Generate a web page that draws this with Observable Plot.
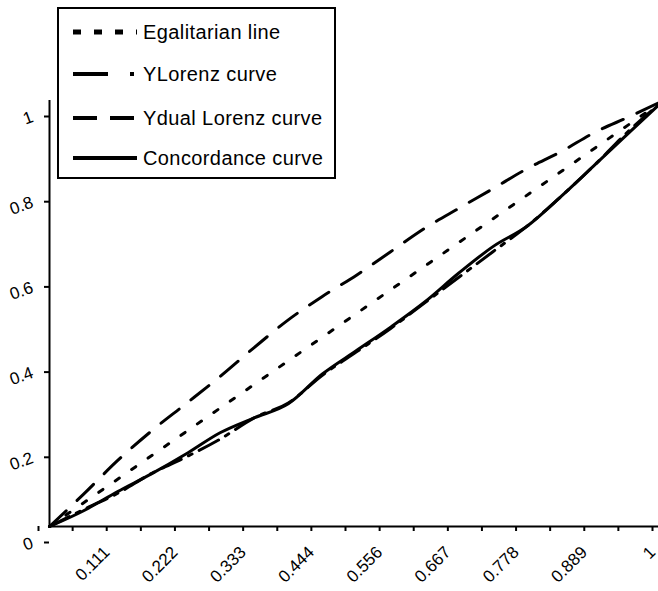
<!DOCTYPE html>
<html>
<head>
<meta charset="utf-8">
<script src="https://cdn.jsdelivr.net/npm/d3@7"></script>
<script src="https://cdn.jsdelivr.net/npm/@observablehq/plot@0.6"></script>
<style>
  html, body { margin: 0; padding: 0; background: #fff; }
  #wrap { position: relative; width: 658px; height: 591px; overflow: hidden; }
  #legend { position: absolute; left: 57px; top: 7px; width: 275px; height: 168px; border: 2px solid #000; background: #fff;
            font-family: "Liberation Sans", Arial, sans-serif; font-size: 20px; letter-spacing: 0.4px; color: #000; }
  .row { position: absolute; left: 0; height: 24px; display: flex; align-items: center; white-space: nowrap; }
  .row svg { margin-left: 14px; margin-right: 6px; }
</style>
</head>
<body>
<div id="wrap"></div>
<script>
// ---- data ----
const xGrid = [0, 0.0556, 0.1111, 0.1667, 0.2222, 0.2778, 0.3333, 0.3889, 0.4444, 0.5,
               0.5556, 0.6111, 0.6667, 0.7222, 0.7778, 0.8333, 0.8889, 0.9444, 1];
const egalitarianX = [0, 1];
const egalitarianY = [0, 1];
const concordance = [0, 0.037, 0.082, 0.124, 0.170, 0.220, 0.255, 0.288, 0.358, 0.413,
                     0.468, 0.527, 0.595, 0.657, 0.705, 0.775, 0.850, 0.925, 1];
const yLorenz     = [0, 0.040, 0.078, 0.125, 0.163, 0.205, 0.255, 0.290, 0.355, 0.410,
                     0.465, 0.525, 0.585, 0.645, 0.705, 0.775, 0.850, 0.930, 1];
const yDualLorenz = [0, 0.076, 0.155, 0.225, 0.288, 0.352, 0.420, 0.485, 0.540, 0.590,
                     0.645, 0.700, 0.747, 0.793, 0.840, 0.880, 0.926, 0.962, 1];

const xTicks = [0, 0.0556, 0.1111, 0.1667, 0.2222, 0.2778, 0.3333, 0.3889, 0.4444, 0.5,
                0.5556, 0.6111, 0.6667, 0.7222, 0.7778, 0.8333, 0.8889, 0.9444, 1];
const xTickLabels = ["", "", "0.111", "", "0.222", "", "0.333", "", "0.444", "",
                     "0.556", "", "0.667", "", "0.778", "", "0.889", "", "1"];
const yTicks = [0, 0.2, 0.4, 0.6, 0.8, 1];
const yTickLabels = ["0", "0.2", "0.4", "0.6", "0.8", "1"];

const seriesNames = ["Egalitarian line", "YLorenz curve", "Ydual Lorenz curve", "Concordance curve"];
const seriesDash = ["5,15", "22,8,4,8", "23,15", null];
const legendDash = ["8,13", "35,22,4,30", "24,13", null];

// ---- build tables ----
const egal = egalitarianX.map((x, i) => ({x, y: egalitarianY[i]}));
const conc = xGrid.map((x, i) => ({x, y: concordance[i]}));
const lor = xGrid.map((x, i) => ({x, y: yLorenz[i]}));
const dual = xGrid.map((x, i) => ({x, y: yDualLorenz[i]}));
const xLab = new Map(xTicks.map((t, i) => [t, xTickLabels[i]]));
const yLab = new Map(yTicks.map((t, i) => [t, yTickLabels[i]]));

const chart = Plot.plot({
  width: 658,
  height: 591,
  marginLeft: 49,
  marginRight: 0,
  marginTop: 100,
  marginBottom: 65,
  x: {domain: [0, 1], range: [49, 663]},
  y: {domain: [0, 1], range: [526, 100]},
  style: {fontFamily: "'Liberation Sans', Arial, sans-serif", background: "#fff", color: "#000", overflow: "hidden"},
  marks: [
    Plot.line(egal, {x: "x", y: "y", stroke: "#000", strokeWidth: 3, strokeDasharray: seriesDash[0]}),
    Plot.line(dual, {x: "x", y: "y", stroke: "#000", strokeWidth: 3, strokeDasharray: seriesDash[2], curve: "monotone-x"}),
    Plot.line(lor, {x: "x", y: "y", stroke: "#000", strokeWidth: 3, strokeDasharray: seriesDash[1], curve: "monotone-x"}),
    Plot.line(conc, {x: "x", y: "y", stroke: "#000", strokeWidth: 3, curve: "monotone-x"}),
    Plot.ruleY([0], {stroke: "#000", strokeWidth: 2}),
    Plot.ruleX([0], {stroke: "#000", strokeWidth: 2}),
    Plot.axisX({ticks: xTicks, tickFormat: d => xLab.get(d), tickSize: 5, tickPadding: 18, tickRotate: -45,
                textAnchor: "end", fontSize: 17, label: null, strokeWidth: 2, dx: -11}),
    Plot.axisY({ticks: yTicks, tickFormat: d => yLab.get(d), tickSize: 5, tickPadding: 12, tickRotate: -20,
                textAnchor: "end", fontSize: 17, label: null, strokeWidth: 2, dy: 16})
  ]
});
const wrap = document.getElementById("wrap");
wrap.appendChild(chart);

// ---- legend ----
const legend = document.createElement("div");
legend.id = "legend";
const rowTops = [11, 53, 97, 137];
seriesNames.forEach((name, i) => {
  const row = document.createElement("div");
  row.className = "row";
  row.style.top = rowTops[i] + "px";
  const dash = legendDash[i] ? ` stroke-dasharray="${legendDash[i]}"` : "";
  row.innerHTML = `<svg width="64" height="10"><line x1="0" y1="5" x2="64" y2="5" stroke="#000" stroke-width="${i===0?5:4}"${dash}/></svg><span>${name}</span>`;
  legend.appendChild(row);
});
wrap.appendChild(legend);
</script>
</body>
</html>
